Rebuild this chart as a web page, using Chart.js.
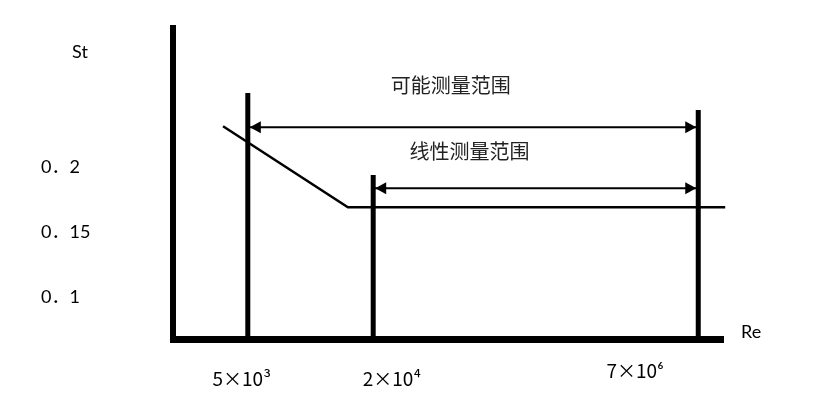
<!DOCTYPE html>
<html>
<head>
<meta charset="utf-8">
<script src="https://cdn.jsdelivr.net/npm/chart.js@4.4.0/dist/chart.umd.min.js"></script>
<style>
    html, body { margin: 0; padding: 0; background: #fff; }
    #chart { display: block; }
</style>
</head>
<body>
<canvas id="chart" width="829" height="420"></canvas>
<script>
// schematic St - Re chart; x is the position along the (not to scale) Re axis, 0..100
var yTicks = [0.1, 0.15, 0.2];
var yTickLabels = ['0．1', '0．15', '0．2'];
var yMin = 0.068, yMax = 0.307;

var reLabels = ['5×10³', '2×10⁴', '7×10⁶'];
var reLabelPos = [12.5, 39.8, 84.0];

// vertical limit lines at the three Re values
var limitPos = [13.6, 36.4, 95.5];
var limitTop = [0.257, 0.194, 0.244];

// St curve
var curveX = [9.1, 31.8, 100.4];
var curveSt = [0.2315, 0.1692, 0.1692];

// measuring ranges (double arrows)
var rangeNames = ['可能测量范围', '线性测量范围'];
var rangeFrom = [13.6, 36.4];
var rangeTo = [95.5, 95.5];
var rangeSt = [0.2308, 0.1838];
var rangeTextX = [50.5, 53.9];
var rangeTextSt = [0.263, 0.212];

var FONT = 'Lato, "Noto Sans CJK SC", sans-serif';
var RE_FONT = '"Noto Sans CJK SC", Lato, sans-serif';

function line(points, width, extra) {
    var ds = {
        data: points,
        borderColor: '#000',
        borderWidth: width,
        pointRadius: 0,
        tension: 0,
        fill: false,
        clip: false
    };
    return Object.assign(ds, extra || {});
}

var datasets = [];
datasets.push(line(curveX.map(function (x, i) { return { x: x, y: curveSt[i] }; }), 2.5));
limitPos.forEach(function (x, i) {
    datasets.push(line([{ x: x, y: yMin }, { x: x, y: limitTop[i] }], 5));
});
rangeNames.forEach(function (name, i) {
    datasets.push(line([{ x: rangeFrom[i], y: rangeSt[i] }, { x: rangeTo[i], y: rangeSt[i] }], 2, { arrows: true }));
});

// arrow heads on both ends of the range lines
var arrowPlugin = {
    id: 'arrows',
    afterDatasetsDraw: function (chart) {
        var ctx = chart.ctx;
        ctx.save();
        ctx.fillStyle = '#000';
        chart.data.datasets.forEach(function (ds, i) {
            if (!ds.arrows) return;
            var pts = chart.getDatasetMeta(i).data;
            var a = pts[0], b = pts[pts.length - 1];
            var len = 11, half = 6;
            ctx.beginPath();
            ctx.moveTo(a.x + 2, a.y);
            ctx.lineTo(a.x + 2 + len, a.y - half);
            ctx.lineTo(a.x + 2 + len, a.y + half);
            ctx.closePath();
            ctx.fill();
            ctx.beginPath();
            ctx.moveTo(b.x - 2, b.y);
            ctx.lineTo(b.x - 2 - len, b.y - half);
            ctx.lineTo(b.x - 2 - len, b.y + half);
            ctx.closePath();
            ctx.fill();
        });
        ctx.restore();
    }
};

// axis names and range names
var textPlugin = {
    id: 'texts',
    afterDraw: function (chart) {
        var ctx = chart.ctx, area = chart.chartArea;
        var xs = chart.scales.x, ys = chart.scales.y;
        ctx.save();
        ctx.fillStyle = '#000';
        ctx.textBaseline = 'middle';
        ctx.font = '18px ' + FONT;
        ctx.textAlign = 'center';
        ctx.fillText('St', area.left - 93, area.top + 24);
        ctx.textAlign = 'left';
        ctx.fillText('Re', area.right + 18, area.bottom - 7);

        ctx.font = '20px "Noto Sans CJK SC", sans-serif';
        ctx.fillStyle = '#222';
        ctx.textAlign = 'center';
        rangeNames.forEach(function (name, i) {
            ctx.fillText(name, xs.getPixelForValue(rangeTextX[i]), ys.getPixelForValue(rangeTextSt[i]));
        });
        ctx.restore();
    }
};

var ctx = document.getElementById('chart');
var myChart = new Chart(ctx, {
    type: 'line',
    data: { datasets: datasets },
    plugins: [arrowPlugin, textPlugin],
    options: {
        responsive: false,
        animation: false,
        events: [],
        layout: {
            padding: { left: 41, top: 28, right: 106, bottom: 0 }
        },
        plugins: {
            legend: { display: false },
            tooltip: { enabled: false }
        },
        scales: {
            x: {
                type: 'linear',
                min: 0,
                max: 100,
                afterBuildTicks: function (scale) {
                    scale.ticks = reLabelPos.map(function (v) { return { value: v }; });
                },
                afterFit: function (scale) { scale.height = 81; },
                grid: { display: false, drawTicks: false },
                border: { display: true, width: 7, color: '#000' },
                ticks: {
                    autoSkip: false,
                    maxRotation: 0,
                    padding: 28,
                    color: '#000',
                    font: function (c) {
                        // the last label sits a bit higher in the original
                        return { family: RE_FONT, size: 19, lineHeight: c.index === 2 ? '7px' : 1.2 };
                    },
                    callback: function (value, index) { return reLabels[index]; }
                }
            },
            y: {
                min: yMin,
                max: yMax,
                afterBuildTicks: function (scale) {
                    scale.ticks = yTicks.map(function (v) { return { value: v }; });
                },
                afterFit: function (scale) { scale.width = 132; },
                grid: { display: false, drawTicks: false },
                border: { display: true, width: 6, color: '#000' },
                ticks: {
                    crossAlign: 'far',
                    color: '#000',
                    font: { family: FONT, size: 18 },
                    callback: function (value, index) { return yTickLabels[index]; }
                }
            }
        }
    }
});
</script>
</body>
</html>
